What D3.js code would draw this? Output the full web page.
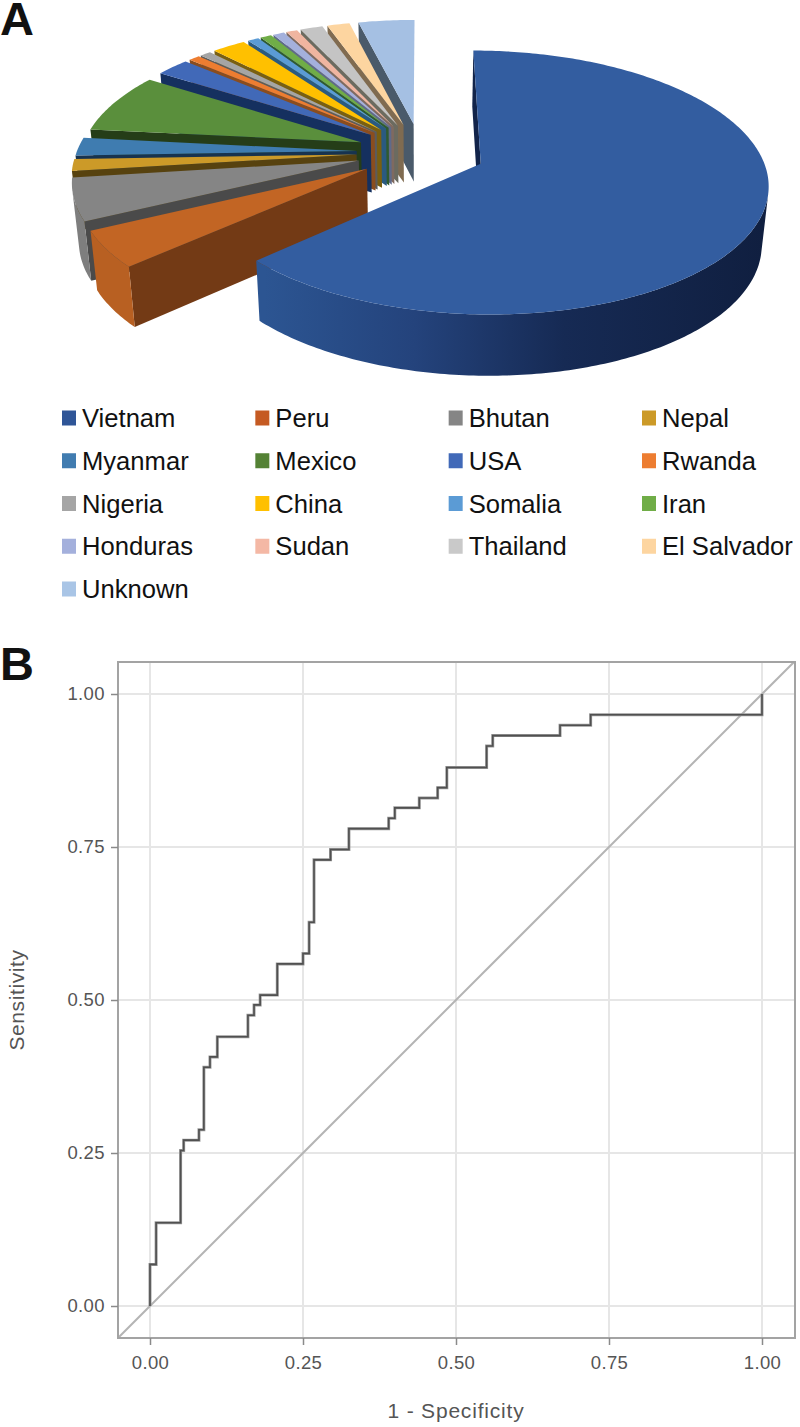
<!DOCTYPE html>
<html><head><meta charset="utf-8">
<script src="https://cdnjs.cloudflare.com/ajax/libs/d3/7.8.5/d3.min.js"></script>
<style>html,body{margin:0;padding:0;background:#fff}svg{display:block}text{font-family:"Liberation Sans",Arial,sans-serif}</style>
</head><body><div id="c"></div>
<script>
const countries=["Vietnam","Peru","Bhutan","Nepal","Myanmar","Mexico","USA","Rwanda","Nigeria","China","Somalia","Iran","Honduras","Sudan","Thailand","El Salvador","Unknown"];
const counts=[84,6,7,2,3,10,3,1,1,3,1,1,1,1,2,2,5];
const topColors=["#335da0","#c26524","#858585","#cc9a28","#3f7cb0","#5a8f3c","#4169b8","#ed7d31","#a5a5a5","#ffc000","#5b9bd5","#70ad47","#a4b0dc","#f0b5a0","#c4c4c4","#fdd5a0","#a5c0e3"];
const sideColors=["#12244a","#733a15","#4a4a4a","#57420f","#17334f","#253d18","#15305f","#8a4d1f","#5c5c5c","#7a5f10","#2a5a80","#2f5a30","#5f6a8a","#7f6a60","#6b6b60","#806b50","#4a5a6a"];
const legendColors=["#2f5597","#c55a22","#858585","#cc9a28","#417cb0","#548235","#4169b8","#ed7d31","#a5a5a5","#ffc000","#5b9bd5","#70ad47","#a4b0dc","#f4b8a5","#c9c9c9","#fdd5a0","#a9c5e6"];
const rocFpr=[0,0.01,0.05,0.055,0.08,0.088,0.098,0.11,0.16,0.17,0.18,0.208,0.25,0.26,0.268,0.295,0.325,0.39,0.4,0.44,0.47,0.485,0.55,0.56,0.67,0.72,1,1];
const rocTpr=[0.068,0.136,0.254,0.271,0.288,0.39,0.407,0.44,0.475,0.492,0.508,0.559,0.576,0.627,0.729,0.746,0.78,0.797,0.814,0.83,0.847,0.88,0.915,0.932,0.949,0.966,1,1];
const axisTicks=[0,0.25,0.5,0.75,1];

const W=800,H=1427;
const svg=d3.select("#c").append("svg").attr("width",W).attr("height",H).attr("viewBox",`0 0 ${W} ${H}`);
svg.append("rect").attr("width",W).attr("height",H).attr("fill","#fff");
const defs=svg.append("defs");
const g0=defs.append("linearGradient").attr("id","rimV").attr("gradientUnits","userSpaceOnUse").attr("x1",265).attr("x2",763).attr("y1",0).attr("y2",0);
[[0,"#2c5592"],[0.3,"#24437c"],[0.6,"#162a54"],[1,"#101f40"]].forEach(s=>g0.append("stop").attr("offset",s[0]).attr("stop-color",s[1]));

// panel labels
svg.append("text").attr("x",0).attr("y",35).attr("font-size",47).attr("font-weight","bold").attr("fill","#111").text("A");
svg.append("text").attr("x",0).attr("y",680).attr("font-size",47).attr("font-weight","bold").attr("fill","#111").text("B");

// exploded perspective pie
const X0=421,Y0=152,KX=280,KY=126,P=0.14,EXPL=0.23;
function proj(u,v){const d=1+P*v;return [X0+KX*u/d,Y0-KY*v/d];}
function low(p){return [X0+(p[0]-X0)*0.98,Y0+(p[1]-Y0)*1.02+58];}
const pie=d3.pie().sort(null).startAngle(0).endAngle(2*Math.PI)(counts);
const line=d3.line();
const pg=svg.append("g");
pie.slice().reverse().forEach(s=>{
  const i=s.index,mid=(s.startAngle+s.endAngle)/2;
  const ou=EXPL*Math.sin(mid),ov=EXPL*Math.cos(mid);
  const apex=proj(ou,ov);
  const rim=a=>proj(ou+Math.sin(a),ov+Math.cos(a));
  const n=Math.max(4,Math.ceil((s.endAngle-s.startAngle)/0.015));
  const as=d3.range(n+1).map(k=>s.startAngle+(s.endAngle-s.startAngle)*k/n);
  const arcPts=as.map(rim);
  // radial side wall at the slice's start edge
  pg.append("path").attr("d",line([apex,arcPts[0],low(arcPts[0]),low(apex)])+"Z").attr("fill",sideColors[i]);
  // outer wall: keep the runs that face the viewer
  let run=[];
  const flush=()=>{ if(run.length>1){
      const pts=run.concat(run.slice().reverse().map(low));
      pg.append("path").attr("d",line(pts)+"Z").attr("fill",i===0?"url(#rimV)":d3.color(topColors[i]).darker(0.15).formatHex());
    } run=[]; };
  for(let k=0;k<n;k++){
    const t1=arcPts[k],t2=arcPts[k+1],b1=low(t1);
    const cross=(t2[0]-t1[0])*(b1[1]-t1[1])-(t2[1]-t1[1])*(b1[0]-t1[0]);
    if(cross<0){ if(!run.length) run.push(t1); run.push(t2);} else flush();
  }
  flush();
  // top face
  pg.append("path").attr("d",line([apex].concat(arcPts))+"Z").attr("fill",topColors[i]);
});

// legend
const colX=d3.scalePoint().domain([0,1,2,3]).range([62,642]);
const rowY=d3.scaleLinear().domain([0,4]).range([418,589]);
const lg=svg.append("g");
countries.forEach((c,i)=>{
  const cx=colX(i%4),cy=rowY(Math.floor(i/4));
  lg.append("rect").attr("x",cx).attr("y",cy-7.5).attr("width",14).attr("height",15).attr("fill",legendColors[i]);
  lg.append("text").attr("x",cx+20).attr("y",cy+9).attr("font-size",25.6).attr("fill","#111").text(c);
});

// ROC
const x=d3.scaleLinear().domain([0,1]).range([150,762]);
const y=d3.scaleLinear().domain([0,1]).range([1306,694]);
const L=118,R=795,T=662,B=1338;
const gr=svg.append("g");
axisTicks.forEach(t=>{
  gr.append("line").attr("x1",x(t)).attr("x2",x(t)).attr("y1",T).attr("y2",B).attr("stroke","#e6e6e6").attr("stroke-width",2);
  gr.append("line").attr("y1",y(t)).attr("y2",y(t)).attr("x1",L).attr("x2",R).attr("stroke","#e6e6e6").attr("stroke-width",2);
});
svg.append("clipPath").attr("id","fr").append("rect").attr("x",L).attr("y",T).attr("width",R-L).attr("height",B-T);
const diag=d3.line().x(d=>x(d)).y(d=>y(d));
gr.append("path").attr("clip-path","url(#fr)").attr("d",diag([-0.1,1.1])).attr("stroke","#b4b4b4").attr("stroke-width",2).attr("fill","none");
const pts=[[0,0]].concat(rocFpr.map((f,i)=>[f,rocTpr[i]]));
const roc=d3.line().x(d=>x(d[0])).y(d=>y(d[1]));
const stepPts=[[0,0]];
rocFpr.forEach((f,i)=>{stepPts.push([f,stepPts[stepPts.length-1][1]]);stepPts.push([f,rocTpr[i]]);});
gr.append("path").attr("d",roc(stepPts)).attr("stroke","#9a9a9a").attr("stroke-width",3).attr("fill","none");
gr.append("path").attr("d",roc(stepPts)).attr("stroke","#505050").attr("stroke-width",1.6).attr("fill","none");
gr.append("rect").attr("x",L).attr("y",T).attr("width",R-L).attr("height",B-T).attr("fill","none").attr("stroke","#a3a3a3").attr("stroke-width",2);
const fmt=d3.format(".2f");
const xa=d3.axisBottom(x).tickValues(axisTicks).tickFormat(fmt).tickSize(7).tickPadding(11);
const ya=d3.axisLeft(y).tickValues(axisTicks).tickFormat(fmt).tickSize(7).tickPadding(6);
const gx=svg.append("g").attr("transform",`translate(0,${B})`).call(xa);
const gy=svg.append("g").attr("transform",`translate(${L},0)`).call(ya);
[gx,gy].forEach(g=>{g.select(".domain").remove();g.selectAll("line").attr("stroke","#8a8a8a").attr("stroke-width",1.5);
  g.selectAll("text").attr("font-size",18.5).attr("fill","#555").attr("font-family","'Liberation Sans',Arial,sans-serif").attr("letter-spacing",0.4);});
svg.append("text").attr("x",456).attr("y",1418).attr("text-anchor","middle").attr("font-size",21).attr("fill","#555").attr("letter-spacing",0.8).text("1 - Specificity");
svg.append("text").attr("transform","translate(24,1000) rotate(-90)").attr("text-anchor","middle").attr("font-size",21).attr("fill","#555").attr("letter-spacing",0.6).text("Sensitivity");
</script></body></html>
